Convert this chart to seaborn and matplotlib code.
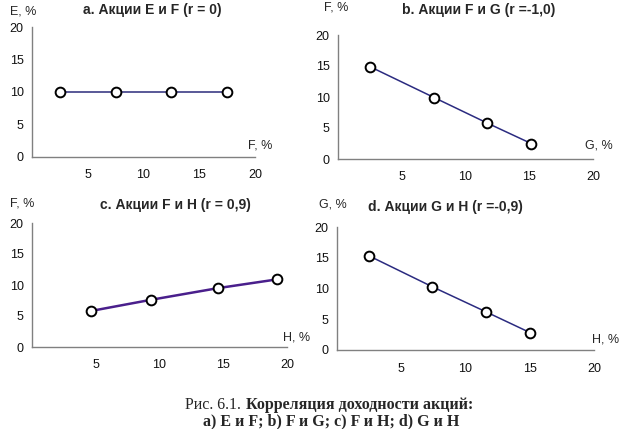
import numpy as np
import pandas as pd
import matplotlib
matplotlib.use('Agg')
import matplotlib.pyplot as plt
import seaborn as sn

sn.set_style('white')
plt.rcParams['font.family'] = ['Liberation Sans', 'DejaVu Sans']

# data
a_x = [2.5, 7.5, 12.5, 17.5]
a_y = [10.0, 10.0, 10.0, 10.0]
b_x = [2.5, 7.55, 11.7, 15.15]
b_y = [14.9, 9.9, 5.8, 2.5]
c_x = [4.6, 9.3, 14.6, 19.2]
c_y = [5.8, 7.6, 9.5, 10.9]
d_x = [2.5, 7.4, 11.6, 15.05]
d_y = [15.3, 10.3, 6.2, 2.8]

titles = ['a. Акции E и F (r = 0)', 'b. Акции F и G (r =-1,0)',
          'c. Акции F и H (r = 0,9)', 'd. Акции G и H (r =-0,9)']
ylabels = ['E, %', 'F, %', 'F, %', 'G, %']
xlabels = ['F, %', 'G, %', 'H, %', 'H, %']
xticks = [5, 10, 15, 20]
yticks = [0, 5, 10, 15, 20]

W, H = 624, 429
fig = plt.figure(figsize=(W / 100, H / 100), dpi=100)


def px(x, y):
    return x / W, 1 - y / H


# axes boxes in pixels: left, top, right, bottom
boxes = [(32, 27, 255, 157), (338, 35, 593, 159),
         (32, 223, 287, 347), (337, 227, 594, 350)]
title_pos = [(152, 10), (479, 10), (175, 205), (445, 207)]
ylab_pos = [(10, 12), (324, 7), (10, 203), (319, 205)]
xlab_pos = [(248, 146), (585, 146), (283, 338), (592, 340)]
series = [(a_x, a_y), (b_x, b_y), (c_x, c_y), (d_x, d_y)]
line_cols = ['#2b2b7a', '#2b2b80', '#4a1f8c', '#2b2b80']
line_w = [1.1, 1.1, 1.8, 1.1]

for i, (l, t, r, b) in enumerate(boxes):
    ax = fig.add_axes([l / W, 1 - b / H, (r - l) / W, (b - t) / H])
    df = pd.DataFrame({'x': series[i][0], 'y': series[i][1]})
    sn.lineplot(data=df, x='x', y='y', ax=ax, color=line_cols[i], lw=line_w[i],
                marker='o', ms=7, mfc='white', mec='black', mew=1.4,
                clip_on=False, sort=False)
    ax.set_xlim(0, 20)
    ax.set_ylim(0, 20)
    ax.set_xticks([0] + xticks)
    ax.set_xticklabels([''] + [str(v) for v in xticks])
    ax.set_yticks(yticks)
    ax.set_xlabel('')
    ax.set_ylabel('')
    for s in ['top', 'right']:
        ax.spines[s].set_visible(False)
    for s in ['left', 'bottom']:
        ax.spines[s].set_color('#808080')
        ax.spines[s].set_linewidth(1.0)
    ax.tick_params(axis='both', direction='out', length=4, width=1,
                   color='#808080', labelsize=9, labelcolor='#111111', pad=2)
    ax.tick_params(axis='x', pad=5)
    ax.patch.set_alpha(0)

    tx, ty = px(*title_pos[i])
    fig.text(tx, ty, titles[i], ha='center', va='center', fontsize=10,
             fontweight='bold')
    yx, yy = px(*ylab_pos[i])
    fig.text(yx, yy, ylabels[i], ha='left', va='center', fontsize=9)
    xx, xy = px(*xlab_pos[i])
    fig.text(xx, xy, xlabels[i], ha='left', va='center', fontsize=9)

# caption
cx, cy = px(241, 409)
fig.text(cx, cy, 'Рис. 6.1.', ha='right', va='baseline', fontsize=11.5,
         family='Liberation Serif')
cx, cy = px(246, 409)
fig.text(cx, cy, 'Корреляция доходности акций:', ha='left', va='baseline',
         fontsize=11.5, family='Liberation Serif', fontweight='bold')
cx, cy = px(331, 425)
fig.text(cx, cy, 'a) E и F; b) F и G; c) F и H; d) G и H', ha='center',
         va='baseline', fontsize=11.5, family='Liberation Serif', fontweight='bold')

plt.savefig('out.png', dpi=100)
plt.close()
